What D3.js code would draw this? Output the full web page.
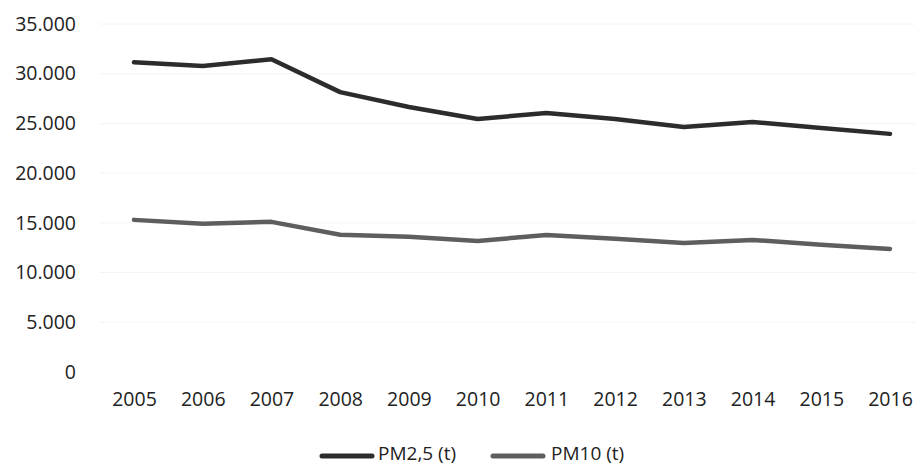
<!DOCTYPE html>
<html><head><meta charset="utf-8">
<script src="https://cdn.jsdelivr.net/npm/d3@7"></script>
<style>body{margin:0;background:#fff}svg{display:block}text{font-family:"Open Sans",sans-serif}</style>
</head><body><svg id="c" width="917" height="466"></svg>
<script>
const years = ["2005","2006","2007","2008","2009","2010","2011","2012","2013","2014","2015","2016"];
const pm25 = [31150,30780,31450,28150,26650,25450,26050,25450,24650,25150,24550,23950];
const pm10 = [15300,14900,15100,13800,13600,13180,13780,13400,12970,13280,12800,12380];
const yTicks = [0,5000,10000,15000,20000,25000,30000,35000];
const seriesNames = ["PM2,5 (t)","PM10 (t)"];
const colors = ["#2c2c2c","#5e5e5e"];

const svg = d3.select("#c");
const x = d3.scalePoint().domain(years).range([134,890]);
const y = d3.scaleLinear().domain([0,35000]).range([372,24]);
const fmt = v => d3.format(",")(v).replace(/,/g,".");

svg.append("g").selectAll("line").data(yTicks.slice(1)).join("line")
  .attr("x1",100).attr("x2",915).attr("y1",d=>y(d)).attr("y2",d=>y(d))
  .attr("stroke","#f4f4f4").attr("stroke-width",1);

const ya = svg.append("g").attr("transform","translate(76,0)")
  .call(d3.axisLeft(y).tickValues(yTicks).tickFormat(fmt).tickSize(0).tickPadding(0));
ya.select(".domain").remove();
ya.selectAll("text").attr("font-size",19.5).attr("fill","#222").attr("font-family","Open Sans, sans-serif");

const xa = svg.append("g").attr("transform","translate(0,392)")
  .call(d3.axisBottom(x).tickSize(0).tickPadding(0));
xa.select(".domain").remove();
xa.selectAll("text").attr("font-size",19.5).attr("fill","#222").attr("font-family","Open Sans, sans-serif");

const line = d3.line().x((d,i)=>x(years[i])).y(d=>y(d));
[pm25,pm10].forEach((s,k)=>{
  svg.append("path").datum(s).attr("d",line).attr("fill","none")
    .attr("stroke",colors[k]).attr("stroke-width",4.5)
    .attr("stroke-linejoin","round").attr("stroke-linecap","round");
});

const lg = [{x:322,tx:378},{x:493,tx:551}];
seriesNames.forEach((n,k)=>{
  const g = svg.append("g");
  g.append("line").attr("x1",lg[k].x).attr("x2",lg[k].x+50).attr("y1",456).attr("y2",456)
    .attr("stroke",colors[k]).attr("stroke-width",5).attr("stroke-linecap","round");
  g.append("text").attr("x",lg[k].tx).attr("y",460).attr("font-size",19).attr("fill","#222").text(n);
});
</script></body></html>
